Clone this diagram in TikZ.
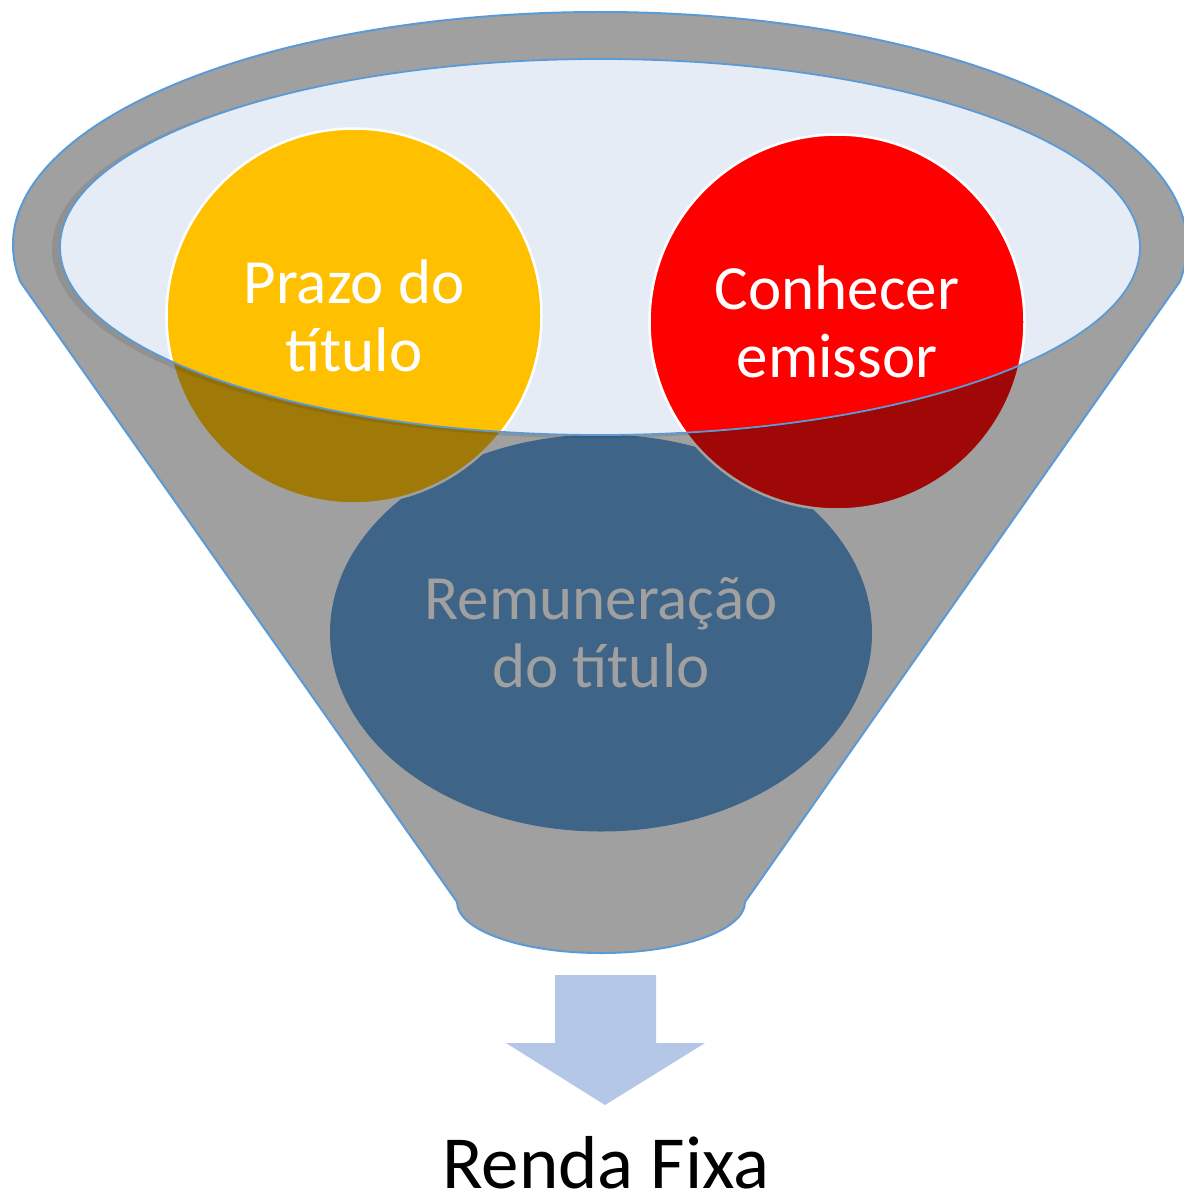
\documentclass[tikz,border=0pt]{standalone}
\usepackage{fontspec}
\setmainfont{Carlito}
\usetikzlibrary{shapes.geometric}
\definecolor{accblue}{HTML}{5B9BD5}
\definecolor{openfill}{HTML}{E5ECF6}
\definecolor{goldc}{HTML}{FFC000}
\definecolor{redc}{HTML}{FF0000}
\definecolor{shadec}{RGB}{20,20,20}
\definecolor{arrowblue}{HTML}{B4C7E7}
\begin{document}
\begin{tikzpicture}[x=1pt,y=-1pt,
  bubble/.style={circle, minimum size=375pt, inner sep=0pt, draw=white, line width=2.5pt,
    text=white, align=center, font=\fontsize{63}{68}\selectfont},
  bigoval/.style={ellipse, minimum width=542pt, minimum height=397pt, inner sep=0pt,
    text=white, align=center, font=\fontsize{63}{68}\selectfont},
  outline/.style={draw=accblue, line width=2pt},
  label/.style={text=black, font=\fontsize{75}{80}\selectfont, inner sep=0pt}]
\useasboundingbox (0,0) rectangle (1183,1196);
\fill[white] (0,0) rectangle (1183,1196);
% funnel opening
\fill[openfill] (600,247) ellipse [x radius=540, y radius=188];
% items
\node[bigoval, fill=accblue] (remun) at (601,633) {Remuneração\\do título};
\node[bubble, fill=goldc] (prazo) at (354,316) {Prazo do\\título};
\node[bubble, fill=redc] (emissor) at (837,322) {Conhecer\\emissor};
% subtle shadow below the rim
\begin{scope}[even odd rule]
  \clip (0,0) rectangle (1183,1196) (600,247) ellipse [x radius=540, y radius=188];
  \fill[shadec, fill opacity=0.10] (593,249) ellipse [x radius=541, y radius=189];
\end{scope}
% funnel body overlay (outside the opening)
\fill[shadec, fill opacity=0.404, even odd rule]
  (20.5,282) arc [start angle=170.86, end angle=369.14, x radius=587, y radius=233]
  -- (745,902) arc [start angle=0, end angle=180, x radius=144, y radius=51] -- cycle
  (600,247) ellipse [x radius=540, y radius=188];
% outlines
\draw[outline, line join=round]
  (20.5,282) arc [start angle=170.86, end angle=369.14, x radius=587, y radius=233]
  -- (745,902) arc [start angle=0, end angle=180, x radius=144, y radius=51] -- cycle;
\draw[outline, line width=1.8pt] (600,247) ellipse [x radius=540, y radius=188];
% output arrow
\fill[arrowblue] (555,975) -- (656,975) -- (656,1043) -- (705,1043) -- (605,1105)
  -- (506,1043) -- (555,1043) -- cycle;
\node[label, anchor=base] (renda) at (606,1188) {Renda Fixa};
\end{tikzpicture}
\end{document}
